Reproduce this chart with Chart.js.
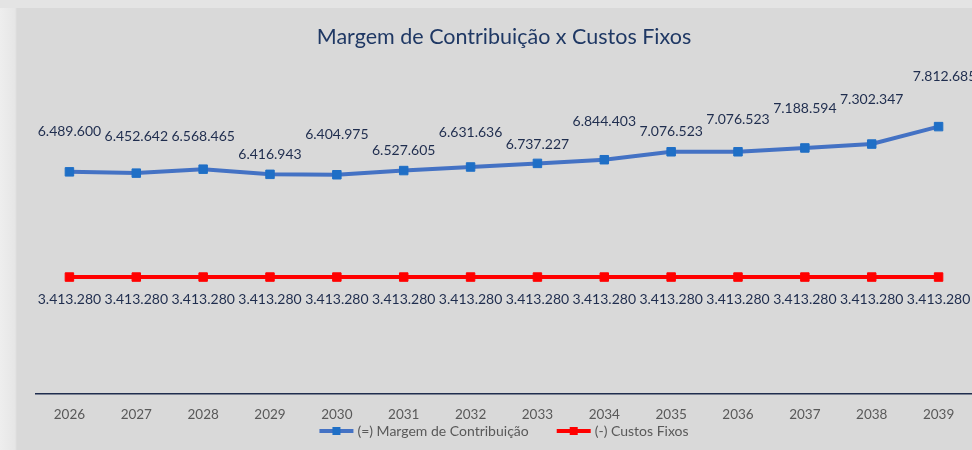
<!DOCTYPE html>
<html lang="pt-BR">
<head>
<meta charset="utf-8">
<title>Margem de Contribuição x Custos Fixos</title>
<script src="https://cdn.jsdelivr.net/npm/chart.js@4.4.1/dist/chart.umd.min.js"></script>
<style>
  html, body { margin: 0; padding: 0; }
  body {
    width: 972px; height: 450px; overflow: hidden;
    background:
      linear-gradient(#e4e4e4, #e4e4e4) 0 0 / 100% 8px no-repeat,
      linear-gradient(to right, #eeeeee 0, #e6e6e6 15px, #d9d9d9 17px);
  }
  #grafico-wrap { position: relative; width: 972px; height: 450px; }
</style>
</head>
<body>
<div id="grafico-wrap"><canvas id="grafico"></canvas></div>
<script>
// Dados do gráfico
var anos = ['2026', '2027', '2028', '2029', '2030', '2031', '2032', '2033', '2034', '2035', '2036', '2037', '2038', '2039'];
var margemContribuicao = [6489600, 6452642, 6568465, 6416943, 6404975, 6527605, 6631636, 6737227, 6844403, 7076523, 7076523, 7188594, 7302347, 7812685];
var custosFixos = [3413280, 3413280, 3413280, 3413280, 3413280, 3413280, 3413280, 3413280, 3413280, 3413280, 3413280, 3413280, 3413280, 3413280];

// distância (px) de cada rótulo acima do ponto da margem, como no original
var alturaRotulos = [40, 37, 33, 20, 40, 20, 35, 19, 38, 20, 32, 39, 45, 50];

var corTexto = '#1f2d4e';
var fonte = 'Lato, "Open Sans", sans-serif';

// formata no padrão brasileiro: 6.489.600
function formatar(v) {
    return String(Math.round(v)).replace(/\B(?=(\d{3})+(?!\d))/g, '.');
}

// rótulos de dados
var rotulosPlugin = {
    id: 'rotulos',
    afterDatasetsDraw: function(chart) {
        var ctx = chart.ctx;
        ctx.save();
        ctx.font = '14px ' + fonte;
        ctx.fillStyle = corTexto;
        ctx.textAlign = 'center';
        ctx.textBaseline = 'middle';
        chart.getDatasetMeta(0).data.forEach(function(pt, i) {
            var dx = (i === anos.length - 1) ? 6 : 0;
            ctx.fillText(formatar(margemContribuicao[i]), pt.x + dx, pt.y - alturaRotulos[i]);
        });
        chart.getDatasetMeta(1).data.forEach(function(pt, i) {
            ctx.fillText(formatar(custosFixos[i]), pt.x, pt.y + 22);
        });
        ctx.restore();
    }
};

// legenda no estilo do Excel (linha com marcador)
var legendaPlugin = {
    id: 'legendaLinha',
    afterDraw: function(chart) {
        var ctx = chart.ctx;
        var area = chart.chartArea;
        var y = 431;
        ctx.save();
        ctx.font = '14px ' + fonte;
        ctx.textBaseline = 'middle';
        var itens = chart.data.datasets.map(function(ds) {
            return { texto: ds.label, linha: ds.borderColor, ponto: ds.pointBackgroundColor, w: ctx.measureText(ds.label).width };
        });
        var amostra = 34, gapTexto = 4, gapItens = 28;
        var total = 0;
        itens.forEach(function(it, i) { total += amostra + gapTexto + it.w + (i > 0 ? gapItens : 0); });
        var x = (area.left + area.right) / 2 - total / 2;
        itens.forEach(function(it, i) {
            if (i > 0) x += gapItens;
            ctx.strokeStyle = it.linha;
            ctx.lineWidth = 4;
            ctx.beginPath();
            ctx.moveTo(x, y);
            ctx.lineTo(x + amostra, y);
            ctx.stroke();
            ctx.fillStyle = it.ponto;
            ctx.fillRect(x + amostra / 2 - 4, y - 4, 8, 8);
            x += amostra + gapTexto;
            ctx.fillStyle = '#595959';
            ctx.fillText(it.texto, x, y);
            x += it.w;
        });
        ctx.restore();
    }
};

var ctx = document.getElementById('grafico').getContext('2d');
var grafico = new Chart(ctx, {
    type: 'line',
    data: {
        labels: anos,
        datasets: [{
            label: '(=) Margem de Contribuição',
            data: margemContribuicao,
            borderColor: '#4472c4',
            borderWidth: 4,
            pointStyle: 'rect',
            pointRadius: 6,
            pointBorderWidth: 1,
            pointBackgroundColor: '#1f6fc6',
            pointBorderColor: '#1f6fc6',
            tension: 0
        }, {
            label: '(-) Custos Fixos',
            data: custosFixos,
            borderColor: '#ff0000',
            borderWidth: 4,
            pointStyle: 'rect',
            pointRadius: 6,
            pointBorderWidth: 1,
            pointBackgroundColor: '#ff0000',
            pointBorderColor: '#ff0000',
            tension: 0
        }]
    },
    options: {
        responsive: true,
        maintainAspectRatio: false,
        animation: false,
        layout: { autoPadding: false, padding: { left: 36, right: 0, top: 0, bottom: 22 } },
        plugins: {
            legend: { display: false },
            tooltip: { enabled: false },
            title: {
                display: true,
                text: 'Margem de Contribuição x Custos Fixos',
                color: '#1f3864',
                font: { family: fonte, size: 21.5, weight: 'normal' },
                padding: { top: 24, bottom: 2 }
            }
        },
        scales: {
            x: {
                offset: true,
                grid: { display: false },
                border: { display: true, color: '#1f2d4e', width: 1.5 },
                ticks: { color: '#595959', font: { family: fonte, size: 13.5 }, padding: 5, maxRotation: 0 }
            },
            y: {
                display: false,
                min: 0,
                max: 10000000
            }
        }
    },
    plugins: [rotulosPlugin, legendaPlugin]
});
</script>
</body>
</html>
